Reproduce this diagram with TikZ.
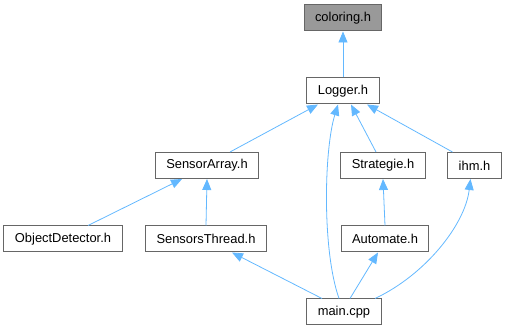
\documentclass[tikz,border=0pt]{standalone}
\usepackage{fontspec}
\setmainfont{Liberation Sans}
\usepackage{xcolor}
\definecolor{edgeblue}{HTML}{63B8FF}
\definecolor{boxgray}{HTML}{666666}
\definecolor{rootgray}{HTML}{999999}
\usepackage{tikz}
\usetikzlibrary{arrows.meta, positioning}
\tikzstyle{arrow} = [
  -{Triangle[length=11pt, width=9pt]}, line width=0.8pt, color=edgeblue
]

\begin{document}
\begin{tikzpicture}[
  x=1pt, y=-1pt,
  every node/.style={font=\fontsize{12.9}{15}\selectfont},
  file/.style={rectangle, draw=boxgray, fill=white, line width=1pt,
               minimum height=26pt, inner xsep=11pt, text centered},
  root/.style={file, fill=rootgray},
]
  \useasboundingbox (0,0) rectangle (507,331);

  \node[root] (coloring) at (343,18)    {coloring.h};
  \node[file] (logger)   at (343,91)    {Logger.h};
  \node[file] (sarray)   at (207,165.5) {SensorArray.h};
  \node[file] (strat)    at (383,165.5) {Strategie.h};
  \node[file] (ihm)      at (474.5,165.5) {ihm.h};
  \node[file] (objdet)   at (63,239)    {ObjectDetector.h};
  \node[file] (sthread)  at (206,239)   {SensorsThread.h};
  \node[file] (automate) at (385,239)   {Automate.h};
  \node[file] (main)     at (344,312)   {main.cpp};

  \draw[arrow] (logger.north) -- (coloring.south);
  \draw[arrow] ([xshift=23pt]sarray.north) -- ([xshift=-25pt]logger.south);
  \draw[arrow] ([xshift=-5pt]main.north)
    .. controls (322,250) and (324,150) .. ([xshift=-5pt]logger.south);
  \draw[arrow] ([xshift=-7pt]strat.north) -- ([xshift=8pt]logger.south);
  \draw[arrow] ([xshift=-22pt]ihm.north) -- ([xshift=24pt]logger.south);
  \draw[arrow] ([xshift=25pt]objdet.north) -- ([xshift=-25pt]sarray.south);
  \draw[arrow] (sthread.north) -- (sarray.south);
  \draw[arrow] (automate.north) -- (strat.south);
  \draw[arrow] ([xshift=-22pt]main.north) -- ([xshift=26pt]sthread.south);
  \draw[arrow] ([xshift=6pt]main.north) -- ([xshift=-7pt]automate.south);
  \draw[arrow] ([xshift=31pt]main.north)
    .. controls (425,275) and (465,225) .. ([xshift=-4pt]ihm.south);
\end{tikzpicture}
\end{document}
